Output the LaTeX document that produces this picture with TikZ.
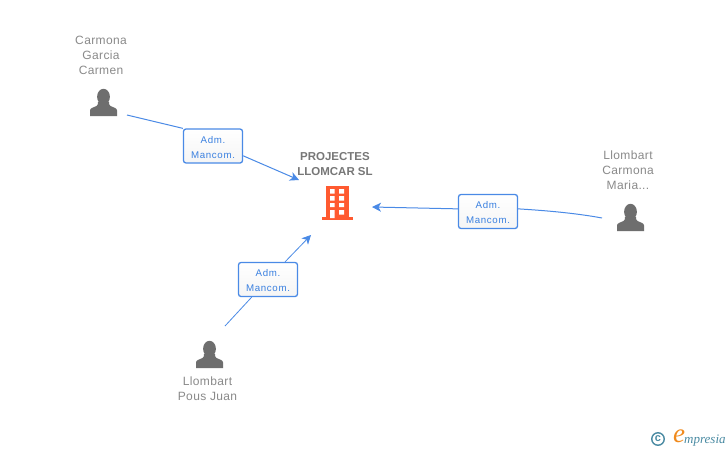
\documentclass[tikz,border=0pt]{standalone}
\usepackage{fontspec}
\setmainfont{Liberation Sans}
\newfontfamily\personfont[LetterSpace=3]{Liberation Sans}
\newfontfamily\boxfont[LetterSpace=7]{Liberation Sans}
\newfontfamily\logofont{Liberation Serif}
\usetikzlibrary{arrows.meta,backgrounds}
\definecolor{linkblue}{HTML}{4A8AE6}
\definecolor{boxtext}{HTML}{3A80E0}
\definecolor{persongray}{HTML}{6E6E6E}
\definecolor{labelgray}{HTML}{8A8A8A}
\definecolor{hubgray}{HTML}{777777}
\definecolor{buildingred}{HTML}{FF5A30}
\definecolor{logoteal}{HTML}{4A8BA3}
\definecolor{logoorange}{HTML}{F08A1D}
\newcommand{\rolelines}{\rule{0pt}{9.2pt}Adm.\\Mancom.}
\tikzset{
  x=1pt,y=-1pt,
  rolebox/.style={draw=linkblue,line width=1.3pt,rounded corners=2.5pt,top color=white,bottom color=black!4,
    minimum width=59pt,minimum height=34pt,inner sep=0pt,align=center,text=boxtext,
    font=\boxfont\fontsize{9.7}{15}\selectfont},
  personlabel/.style={align=center,text=labelgray,inner sep=0pt,font=\personfont\fontsize{12}{15}\selectfont},
  hublabel/.style={align=center,text=hubgray,inner sep=0pt,font=\bfseries\fontsize{11.5}{15}\selectfont},
  link/.style={draw=linkblue,line width=1pt},
  linkend/.style={link,-{Stealth[length=9pt,width=9pt,inset=2.5pt]}},
  personicon/.pic={
    \fill[persongray] (0,7.8) ellipse[x radius=6.4,y radius=8];
    \fill[persongray] (-13.5,27) -- (-13.5,21.5) .. controls (-13.5,19) and (-10,18.5) .. (-7,17)
      .. controls (-5.8,16.3) and (-5.5,15.5) .. (-5.5,13) -- (5.5,13) .. controls (5.5,15.5) and (5.8,16.3) .. (7,17)
      .. controls (10,18.5) and (13.5,19) .. (13.5,21.5) -- (13.5,27) -- cycle;
  },
  buildingicon/.pic={
    \fill[buildingred] (326,186) rectangle (348.5,218);
    \fill[buildingred] (321.5,217) rectangle (353,220);
    \fill[white] (330,189) rectangle (334.5,193.5) (339,189) rectangle (344,193.5)
      (330,196) rectangle (334.5,200.5) (339,196) rectangle (344,200.5)
      (330,203) rectangle (334.5,207) (339,203) rectangle (344,207)
      (330,210) rectangle (334.5,218) (339,210) rectangle (344,214.5);
  }
}
\begin{document}
\begin{tikzpicture}
\useasboundingbox (0,0) rectangle (728,450);
% role boxes
\node[rolebox] (box1) at (213,146) {\rolelines};
\node[rolebox] (box2) at (488,211.5) {\rolelines};
\node[rolebox] (box3) at (268,279.5) {\rolelines};
% connector ends
\coordinate (from1) at (127,115);
\coordinate (from2) at (602,218);
\coordinate (from3) at (225,326);
\coordinate (to1) at (299,180);
\coordinate (to2) at (372,207);
\coordinate (to3) at (311,235);
\begin{scope}[on background layer]
\fill[white] (0,0) rectangle (728,450);
\draw[link] (from1) -- (box1.north west);
\draw[linkend] (box1.-18) -- (to1);
\draw[link] (from2) .. controls (575,213) and (545,210.5) .. (box2.5);
\draw[linkend] (box2.175) -- (to2);
\draw[link,line width=0.8pt] (from3) -- (box3);
\draw[linkend,line width=0.8pt] (box3) -- (to3);
\end{scope}
% people
\pic at (103.5,89) {personicon};
\pic at (630.5,204) {personicon};
\pic at (209.5,341) {personicon};
\node[personlabel] (p1) at (101,55) {Carmona\\Garcia\\Carmen};
\node[personlabel] (p2) at (628,170) {Llombart\\Carmona\\Maria...};
\node[personlabel] (p3) at (207.5,389) {Llombart\\Pous Juan};
% company
\pic at (0,0) {buildingicon};
\node[hublabel] (hub) at (335,164) {PROJECTES\\LLOMCAR SL};
% logo
\node[circle,draw=logoteal,line width=1.4pt,minimum size=12.5pt,inner sep=0pt,text=logoteal,font=\bfseries\fontsize{11}{11}\selectfont] (copy) at (658,439) {\raisebox{0.8pt}{c}};
\node[inner sep=0pt,text=logoorange,font=\logofont\itshape\fontsize{27}{27}\selectfont] (logoe) at (679,436) {e};
\node[inner sep=0pt,anchor=base west,text=logoteal,font=\logofont\itshape\fontsize{13}{14}\selectfont] (logotext) at (684,443) {mpresia};
\end{tikzpicture}
\end{document}
